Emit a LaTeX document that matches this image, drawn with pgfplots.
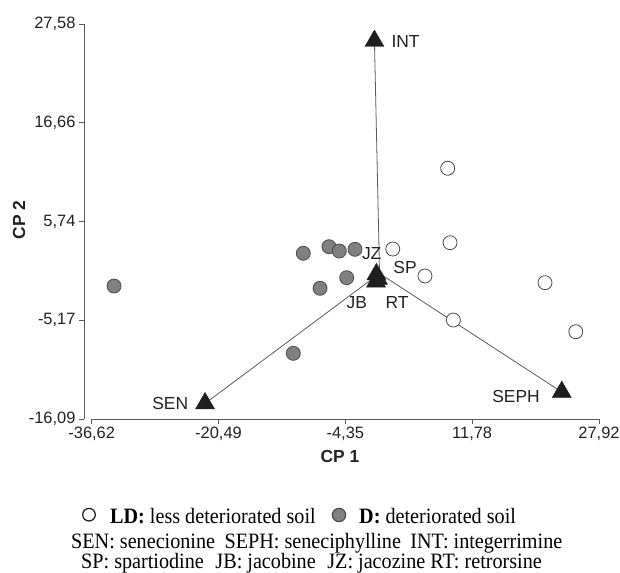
\documentclass[border=0pt]{standalone}
\usepackage{pgfplots}
\pgfplotsset{compat=1.18}
\usepackage{fontspec}
\setmainfont{Liberation Sans}
\newfontfamily\timesf[FakeStretch=0.92]{Liberation Serif}
\definecolor{axgray}{HTML}{5a5a5a}
\definecolor{dfill}{HTML}{808080}
\definecolor{dedge}{HTML}{4a4a4a}
\definecolor{txt}{HTML}{222222}
\newcommand{\lab}{\fontsize{17.5}{19}\selectfont}
\newcommand{\tlab}{\fontsize{16.5}{18}\selectfont}
\newcommand{\leg}{\timesf\fontsize{22}{24}\selectfont}
\begin{document}
\begin{tikzpicture}[x=1bp,y=1bp]
\useasboundingbox (0,0) rectangle (620,573);
\begin{axis}[
  at={(91.7bp,154bp)}, anchor=south west,
  scale only axis, width=507.3bp, height=395bp,
  xmin=-36.62, xmax=27.92, ymin=-16.09, ymax=27.58,
  axis x line*=bottom, axis y line*=left,
  axis y line shift=7.7bp,
  axis line style={axgray, line width=0.9bp},
  xtick={-36.62,-20.49,-4.35,11.78,27.92},
  xticklabels={{-36,62},{-20,49},{-4,35},{11,78},{27,92}},
  ytick={-16.09,-5.17,5.74,16.66,27.58},
  yticklabels={{-16,09},{-5,17},{5,74},{16,66},{27,58}},
  tick align=outside, major tick length=5bp,
  tick style={axgray, line width=0.8bp},
  ticklabel style={font=\tlab, text=txt},
  clip=false,
]
\addplot[axgray, line width=0.8bp] coordinates {(0,0) (-0.65,25.7)};
\addplot[axgray, line width=0.8bp] coordinates {(0,0) (-22.2,-14.37)};
\addplot[axgray, line width=0.8bp] coordinates {(0,0) (23.18,-13.11)};
% D: deteriorated soil
\addplot[only marks, mark=*, mark size=7bp, mark options={fill=dfill, draw=dedge, line width=0.8bp}] coordinates {
(-33.78,-1.39) (-9.70,2.23) (-6.43,2.96) (-5.12,2.48) (-3.12,2.67) (-4.18,-0.47) (-7.57,-1.64) (-10.97,-8.83)};
% LD: less deteriorated soil
\addplot[only marks, mark=*, mark size=7bp, mark options={fill=white, draw=dedge, line width=0.8bp}] coordinates {
(1.68,2.70) (5.78,-0.28) (8.67,11.63) (8.97,3.40) (21.05,-1.02) (9.39,-5.15) (24.96,-6.44)};
% alkaloids
\addplot[only marks, mark=triangle*, mark size=11bp, mark options={fill=black!88, draw=black!88}] coordinates {
(-0.65,25.7) (-22.2,-14.37) (23.18,-13.11) (-0.4,-0.1) (-0.45,-0.9) (-0.2,-0.6)};
\node[font=\lab, text=txt, anchor=west] at (axis cs:1.08,25.62) {INT};
\node[font=\lab, text=txt] at (axis cs:-1.00,2.23) {JZ};
\node[font=\lab, text=txt] at (axis cs:3.24,0.71) {SP};
\node[font=\lab, text=txt] at (axis cs:-2.90,-3.19) {JB};
\node[font=\lab, text=txt] at (axis cs:2.22,-3.19) {RT};
\node[font=\lab, text=txt, anchor=east] at (axis cs:-23.9,-14.43) {SEN};
\node[font=\lab, text=txt] at (axis cs:17.36,-13.55) {SEPH};
\end{axis}
\node[font=\lab\bfseries, text=txt] at (340,116) {CP 1};
\node[font=\lab\bfseries, text=txt, rotate=90] at (19,353) {CP 2};
% legend text
\draw[black!90, line width=1.2bp] (89,58.3) circle (6.3);
\node[font=\leg, anchor=base west, inner sep=0pt] at (110,49.7) {\textbf{LD:} less deteriorated soil};
\draw[dedge, fill=dfill, line width=1.1bp] (339,58) circle (6.7);
\node[font=\leg, anchor=base west, inner sep=0pt] at (359,49.7) {\textbf{D:} deteriorated soil};
\node[font=\leg, anchor=base west, inner sep=0pt] at (71,24.7) {SEN: senecionine\hspace{0.2em} SEPH: seneciphylline\hspace{0.2em} INT: integerrimine};
\node[font=\leg, anchor=base west, inner sep=0pt] at (81,4.8) {SP: spartiodine\hspace{0.3em} JB: jacobine\hspace{0.3em} JZ: jacozine RT: retrorsine};
\end{tikzpicture}
\end{document}
